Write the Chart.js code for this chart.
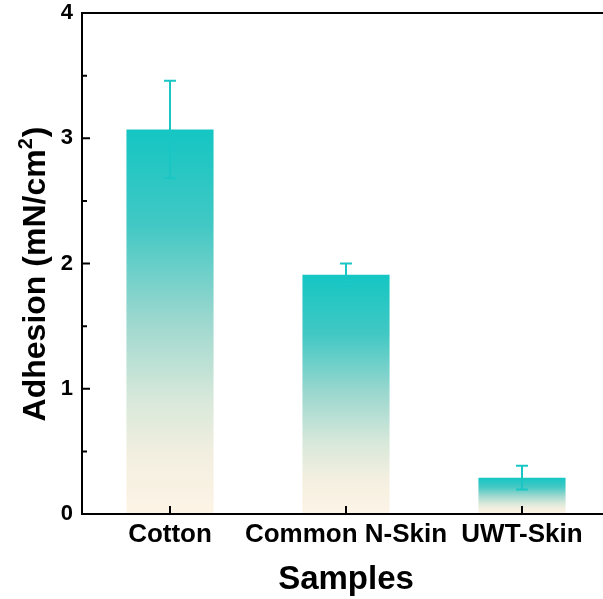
<!DOCTYPE html>
<html>
<head>
<meta charset="utf-8">
<script src="https://cdn.jsdelivr.net/npm/chart.js@4/dist/chart.umd.min.js"></script>
<style>
  html, body { margin: 0; padding: 0; background: #ffffff; overflow: hidden; }
  #wrap { width: 603px; height: 599px; overflow: hidden; }
  canvas { display: block; }
</style>
</head>
<body>
<div id="wrap"><canvas id="chart" width="612" height="599"></canvas></div>
<script>
// Adhesion measured on each sample, mean and standard deviation (mN/cm²)
const categories = ['Cotton', 'Common N-Skin', 'UWT-Skin'];
const adhesion = [3.07, 1.91, 0.29];
const adhesionErr = [0.39, 0.09, 0.095];
const yTickValues = [0, 1, 2, 3, 4];
const yMinorValues = [0.5, 1.5, 2.5, 3.5];

const FONT = '"Liberation Sans", Arial, Helvetica, sans-serif';
const TEAL = '#19c6c4';

// Vertical teal-to-cream fill, spanning each bar from its top to the baseline
function barGradient(context) {
  const chart = context.chart;
  if (!chart.chartArea || context.dataIndex === undefined) return TEAL;
  const y = chart.scales.y;
  const yTop = y.getPixelForValue(adhesion[context.dataIndex]);
  const yBot = y.getPixelForValue(0);
  const g = chart.ctx.createLinearGradient(0, yTop, 0, yBot);
  g.addColorStop(0.00, '#14c6c3');
  g.addColorStop(0.25, '#42c8c4');
  g.addColorStop(0.50, '#9dd8cf');
  g.addColorStop(0.70, '#d7e8da');
  g.addColorStop(0.85, '#f3efe0');
  g.addColorStop(1.00, '#fdf4e6');
  return g;
}

// Error bars with caps, drawn on top of the bars
const errorBars = {
  id: 'errorBars',
  afterDatasetsDraw(chart) {
    const ctx = chart.ctx;
    const y = chart.scales.y;
    const meta = chart.getDatasetMeta(0);
    ctx.save();
    ctx.strokeStyle = TEAL;
    ctx.lineWidth = 2;
    meta.data.forEach((bar, i) => {
      const x = Math.round(bar.x);
      const hi = y.getPixelForValue(adhesion[i] + adhesionErr[i]);
      const lo = y.getPixelForValue(adhesion[i] - adhesionErr[i]);
      const cap = 6;
      ctx.beginPath();
      ctx.moveTo(x, hi); ctx.lineTo(x, lo);
      ctx.moveTo(x - cap, hi); ctx.lineTo(x + cap, hi);
      ctx.moveTo(x - cap, lo); ctx.lineTo(x + cap, lo);
      ctx.stroke();
    });
    ctx.restore();
  }
};

// Axis frame (running out past the right edge) with inward tick marks,
// plus the rotated y-axis title
const frameAndTicks = {
  id: 'frameAndTicks',
  afterDraw(chart) {
    const ctx = chart.ctx;
    const { left, top, bottom } = chart.chartArea;
    const lineEnd = chart.width;
    const y = chart.scales.y;
    const x = chart.scales.x;
    ctx.save();
    ctx.strokeStyle = '#000000';
    ctx.lineWidth = 2;
    ctx.beginPath();
    ctx.moveTo(lineEnd, top); ctx.lineTo(left, top);
    ctx.lineTo(left, bottom); ctx.lineTo(lineEnd, bottom);
    ctx.stroke();

    ctx.beginPath();
    yTickValues.forEach(v => {
      const py = y.getPixelForValue(v);
      ctx.moveTo(left, py); ctx.lineTo(left + 8, py);
    });
    yMinorValues.forEach(v => {
      const py = y.getPixelForValue(v);
      ctx.moveTo(left, py); ctx.lineTo(left + 5, py);
    });
    categories.forEach((c, i) => {
      const px = Math.round(x.getPixelForValue(i));
      ctx.moveTo(px, bottom); ctx.lineTo(px, bottom - 8);
    });
    ctx.stroke();

    // y-axis title with a true superscript
    ctx.translate(45, 274);
    ctx.rotate(-Math.PI / 2);
    ctx.fillStyle = '#000000';
    ctx.textBaseline = 'alphabetic';
    const main = '700 32px ' + FONT;
    const sup = '700 20px ' + FONT;
    const partA = 'Adhesion (mN/cm';
    const partB = '2';
    const partC = ')';
    ctx.font = main;
    const wA = ctx.measureText(partA).width;
    const wC = ctx.measureText(partC).width;
    ctx.font = sup;
    const wB = ctx.measureText(partB).width;
    const total = wA + wB + wC + 1;
    let cx = -total / 2;
    ctx.font = main;
    ctx.fillText(partA, cx, 0);
    cx += wA;
    ctx.font = sup;
    ctx.fillText(partB, cx, -13);
    cx += wB + 1;
    ctx.font = main;
    ctx.fillText(partC, cx, 0);
    ctx.restore();
  }
};

new Chart(document.getElementById('chart'), {
  type: 'bar',
  data: {
    labels: categories,
    datasets: [{
      data: adhesion,
      backgroundColor: barGradient,
      borderWidth: 0,
      categoryPercentage: 1.0,
      barPercentage: 0.495
    }]
  },
  options: {
    responsive: false,
    animation: false,
    devicePixelRatio: 1,
    layout: { padding: { top: 13, right: 2, left: 0, bottom: 0 } },
    plugins: {
      legend: { display: false },
      tooltip: { enabled: false }
    },
    scales: {
      x: {
        grid: { display: false, drawTicks: false, tickLength: 0 },
        border: { display: false },
        ticks: {
          color: '#000000',
          padding: 5,
          maxRotation: 0,
          minRotation: 0,
          autoSkip: false,
          font: { family: FONT, size: 26, weight: 'bold' }
        },
        title: {
          display: true,
          text: 'Samples',
          color: '#000000',
          padding: { top: 0, bottom: -1 },
          font: { family: FONT, size: 33, weight: 'bold' }
        },
        afterFit(scale) {
          scale.height = 85;
          scale.paddingLeft = 0;
          scale.paddingRight = 0;
        }
      },
      y: {
        min: 0,
        max: 4,
        grid: { display: false, drawTicks: false, tickLength: 0 },
        border: { display: false },
        afterBuildTicks(scale) { scale.ticks = yTickValues.map(v => ({ value: v })); },
        ticks: {
          color: '#000000',
          padding: 9,
          font: { family: FONT, size: 22, weight: 'bold' }
        },
        afterFit(scale) {
          scale.width = 82;
          scale.paddingTop = 0;
          scale.paddingBottom = 0;
        }
      }
    }
  },
  plugins: [errorBars, frameAndTicks]
});
</script>
</body>
</html>
